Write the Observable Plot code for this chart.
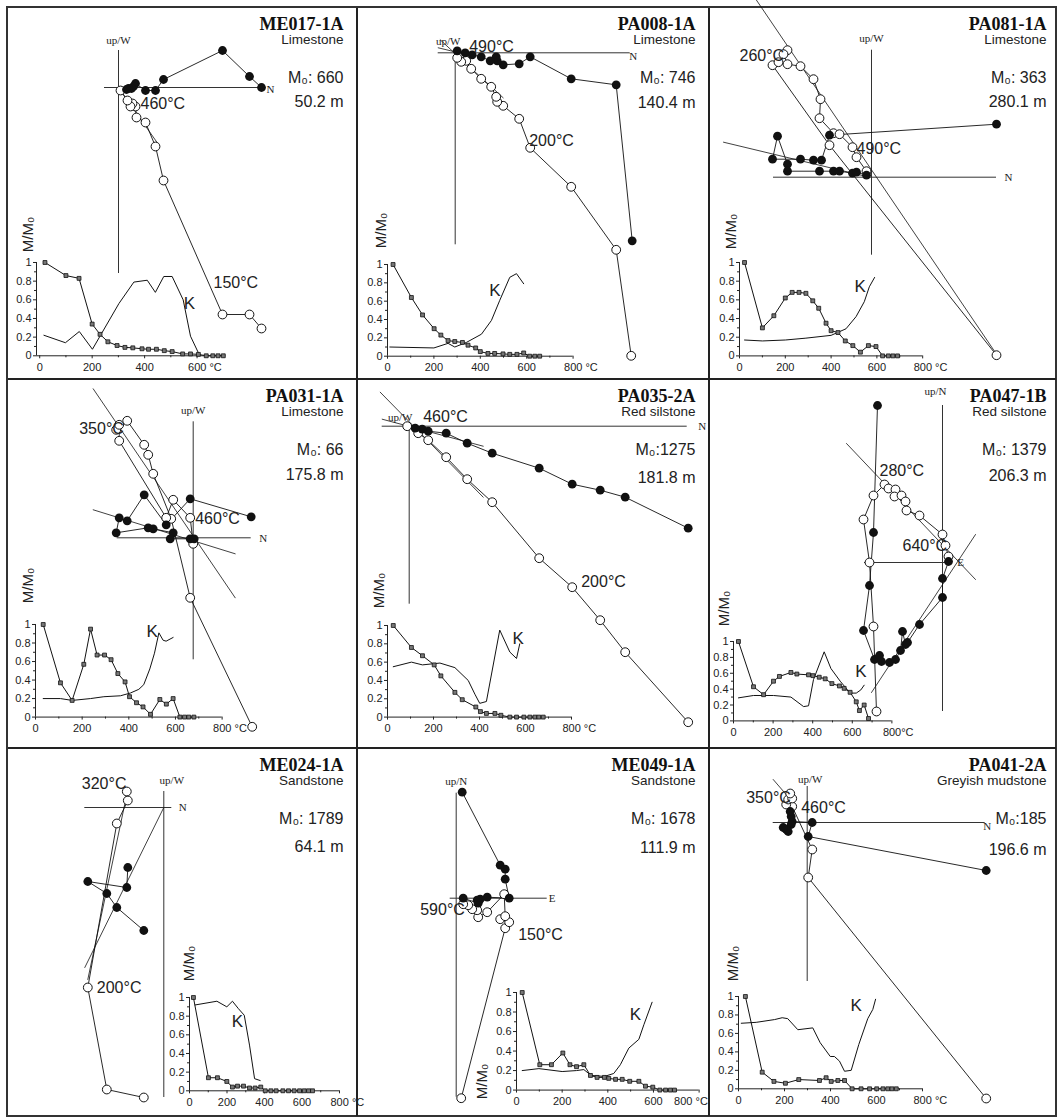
<!DOCTYPE html>
<html><head><meta charset="utf-8">
<script src="https://cdn.jsdelivr.net/npm/d3@7"></script>
<script src="https://cdn.jsdelivr.net/npm/@observablehq/plot@0.6"></script>
<style>
body{margin:0;background:#fff;}
#fig{position:relative;width:1059px;height:1119px;overflow:hidden;background:#fff;}
#fig svg{position:absolute;}
.gl{position:absolute;background:#222;}
#frame{position:absolute;left:6px;top:6px;width:1051px;height:1111px;border:2px solid #333;box-sizing:border-box;}
</style></head><body><div id="fig"><div id="frame"></div></div>
<script>
// ===== DATA =====
const samples = ["ME017-1A","PA008-1A","PA081-1A","PA031-1A","PA035-2A","PA047-1B","ME024-1A","ME049-1A","PA041-2A"];
const rocks = ["Limestone","Limestone","Limestone","Limestone","Red silstone","Red silstone","Sandstone","Sandstone","Greyish mudstone"];
const m0Labels = ["M₀: 660","M₀: 746","M₀: 363","M₀: 66","M₀:1275","M₀: 1379","M₀: 1789","M₀: 1678","M₀:185"];
const levels = ["50.2 m","140.4 m","280.1 m","175.8 m","181.8 m","206.3 m","64.1 m","111.9 m","196.6 m"];

// Zijderveld: horizontal projection (filled) and vertical projection (open), arbitrary units
const me017_h = [[143,0],[131,11],[104,37],[45,8],[37,-3],[27,-3],[17,4],[15,1],[13,-1],[10,-1],[8,-2]];
const me017_v = [[143,-241],[131,-227],[104,-227],[45,-93],[37,-59],[27,-35],[18,-30],[17,-19],[14,-16],[12,-19],[9,-13],[2,-3]];
const me017_fit = [[[2,-3],[40,-57]]];
const me017_tl = [{x:22,y:-16,t:"460°C"},{x:95,y:-195,t:"150°C"}];
const me017_ax = [{x:0,y:47,t:"up/W"},{x:152,y:-2,t:"N"}];

const pa008_h = [[177,-188],[161,-32],[116,-26],[75,-4],[64,-11],[48,-12],[42,-8],[41,-4],[35,-8],[26,-4],[17,-2],[10,0],[2,2]];
const pa008_v = [[176,-303],[161,-197],[116,-134],[75,-95],[64,-66],[48,-53],[42,-49],[41,-44],[36,-34],[26,-26],[16,-16],[11,-8],[6,-9],[2,-5]];
const pa008_fit = [[[-15,13],[48,-45]],[[-17,5],[8,-1]]];
const pa008_tl = [{x:14,y:6,t:"490°C"},{x:74,y:-88,t:"200°C"}];
const pa008_ax = [{x:-7,y:11,t:"up/W"},{x:178,y:-4,t:"N"}];

const pa081_h = [[125,53],[-42,42],[-50,17],[-58,17],[-71,18],[-99,18],[-94,41],[-84,13],[-84,6],[-52,6],[-38,6],[-32,6],[-19,4],[-15,5],[-5,2]];
const pa081_v = [[125,-178],[-42,32],[-99,112],[-93,115],[-84,127],[-88,123],[-84,113],[-71,111],[-58,98],[-51,78],[-52,59],[-38,44],[-32,43],[-19,30],[-15,20],[-5,6]];
const pa081_fit = [[[-115,177],[125,-177]],[[-148,35],[-2,0]]];
const pa081_tl = [{x:-132,y:121,t:"260°C"},{x:-15,y:28,t:"490°C"}];
const pa081_ax = [{x:0,y:139,t:"up/W"},{x:137,y:0,t:"N"}];

const pa031_h = [[58,21],[-3,39],[-27,13],[-49,43],[-66,17],[-74,20],[-77,5],[-45,10],[-40,9],[-20,5],[-23,-1],[-3,-1],[1,-1]];
const pa031_v = [[59,-189],[-3,-60],[-22,19],[-40,64],[-45,83],[-49,93],[-66,117],[-77,108],[-74,113],[-74,97],[-27,20],[-20,38],[-3,20],[0,-6]];
const pa031_fit = [[[-100,149],[42,-60]],[[-100,28],[42,-16]]];
const pa031_tl = [{x:-114,y:109,t:"350°C"},{x:2,y:19,t:"460°C"}];
const pa031_ax = [{x:0,y:127,t:"up/W"},{x:70,y:-1,t:"N"}];

const pa035_h = [[279,-102],[216,-71],[191,-64],[163,-58],[130,-42],[83,-27],[58,-17],[37,-7],[19,-5],[13,-3],[6,-2]];
const pa035_v = [[279,-296],[216,-226],[191,-194],[163,-161],[130,-132],[83,-76],[58,-53],[37,-31],[19,-14],[9,-7],[-2,0]];
const pa035_fit = [[[-29,34],[74,-71]],[[-27,7],[74,-20]]];
const pa035_tl = [{x:14,y:9,t:"460°C"},{x:172,y:-156,t:"200°C"}];
const pa035_ax = [{x:-9,y:9,t:"up/W"},{x:293,y:0,t:"N"}];

const pa047_h = [[-65,157],[-69,30],[-73,-23],[-79,-68],[-68,-97],[-63,-93],[-61,-99],[-53,-100],[-47,-97],[-42,-88],[-40,-69],[-37,-82],[-35,-80],[-23,-62],[0,-35],[0,-16],[6,1]];
const pa047_v = [[-66,-149],[-69,-64],[-73,0],[-79,43],[-69,67],[-58,78],[-54,74],[-47,73],[-48,66],[-41,67],[-37,61],[-36,52],[-23,47],[0,28],[3,17],[6,6]];
const pa047_fit = [[[-96,119],[33,-17]],[[-71,-130],[33,28]]];
const pa047_tl = [{x:-63,y:92,t:"280°C"},{x:-40,y:17,t:"640°C"}];
const pa047_ax = [{x:-7,y:171,t:"up/N"},{x:18,y:0,t:"E"}];

const me024_h = [[-20,-123],[-47,-100],[-57,-86],[-76,-74],[-37,-80],[-36,-60]];
const me024_v = [[-20,-290],[-57,-282],[-76,-180],[-47,-16],[-36,7],[-37,16]];
const me024_fit = [[[0,0],[-79,-160]],[[-37,13],[-76,-172]]];
const me024_tl = [{x:-82,y:24,t:"320°C"},{x:-67,y:-180,t:"200°C"}];
const me024_ax = [{x:8,y:27,t:"up/W"},{x:19,y:0,t:"N"}];

const me049_h = [[6,106],[44,33],[49,29],[49,19],[53,0],[31,1],[24,-1],[21,-2],[22,-5],[7,0]];
const me049_v = [[5,-200],[49,-30],[53,-24],[44,-21],[49,-18],[48,4],[31,-14],[22,-19],[21,-12],[16,-11],[12,-7],[7,-6]];
const me049_fit = [];
const me049_tl = [{x:-36,y:-12,t:"590°C"},{x:62,y:-37,t:"150°C"}];
const me049_ax = [{x:0,y:117,t:"up/N"},{x:96,y:0,t:"E"}];

const pa041_h = [[179,-48],[1,-14],[5,0],[-15,1],[-16,6],[-17,11],[-16,-2],[-19,-9],[-21,-7],[-24,-5]];
const pa041_v = [[179,-276],[1,-55],[5,-27],[-15,16],[-21,18],[-19,23],[-15,24],[-17,29]];
const pa041_fit = [[[-34,43],[-15,21]]];
const pa041_tl = [{x:-61,y:25,t:"350°C"},{x:-6,y:15,t:"460°C"}];
const pa041_ax = [{x:3,y:43,t:"up/W"},{x:180,y:-4,t:"N"}];

// Demagnetization (M/M0) and susceptibility (K) curves
const me017_T = [20,100,150,200,230,260,295,325,355,390,415,445,475,505,545,575,605,635,660,680,700];
const me017_M = [1,0.86,0.83,0.34,0.23,0.15,0.11,0.09,0.085,0.075,0.07,0.07,0.055,0.045,0.02,0.02,0.015,0,0,0,0];
const me017_KT = [16,98,151,201,302,359,410,441,473,505,547,575,607];
const me017_K = [0.22,0.14,0.26,0.07,0.56,0.79,0.81,0.68,0.85,0.85,0.6,0.21,0.02];

const pa008_T = [24,103,151,201,230,261,290,323,347,380,400,433,462,498,527,558,587,613,635,656];
const pa008_M = [1,0.64,0.45,0.3,0.23,0.17,0.16,0.15,0.12,0.09,0.05,0.03,0.03,0.025,0.02,0.02,0.035,0,0,0];
const pa008_KT = [10,200,261,290,340,405,448,484,527,556,587];
const pa008_K = [0.1,0.09,0.14,0.1,0.15,0.24,0.39,0.61,0.86,0.9,0.79];

const pa081_T = [22,100,150,200,230,260,290,320,346,378,400,430,462,495,528,563,596,625,650,670,690];
const pa081_M = [1,0.3,0.43,0.62,0.68,0.68,0.67,0.59,0.51,0.35,0.27,0.25,0.16,0.11,0.04,0.11,0.1,0,0,0,0];
const pa081_KT = [22,100,200,290,400,465,509,545,567,590];
const pa081_K = [0.17,0.16,0.17,0.19,0.22,0.29,0.42,0.58,0.74,0.84];

const pa031_T = [33,107,157,207,236,264,296,324,353,384,403,433,461,493,533,561,590,619,639,657,679];
const pa031_M = [1,0.37,0.18,0.57,0.95,0.67,0.67,0.62,0.47,0.38,0.22,0.155,0.11,0.03,0.19,0.14,0.2,0,0,0,0];
const pa031_KT = [33,107,157,236,293,364,407,443,464,490,510,529,547,560,590];
const pa031_K = [0.2,0.2,0.18,0.2,0.22,0.23,0.26,0.3,0.35,0.52,0.69,0.91,0.83,0.82,0.86];

const pa035_T = [25,104,152,203,232,293,325,384,404,430,467,493,532,561,593,619,641,658,677];
const pa035_M = [1,0.76,0.67,0.57,0.45,0.27,0.19,0.11,0.06,0.04,0.04,0.02,0,0,0,0,0,0,0];
const pa035_KT = [25,104,152,228,293,351,380,401,430,488,532,561,575];
const pa035_K = [0.55,0.6,0.57,0.59,0.54,0.4,0.25,0.15,0.17,0.95,0.71,0.64,0.8];

const pa047_T = [25,101,152,202,232,290,320,379,401,433,463,497,535,559,589,620,636,660,682];
const pa047_M = [1,0.43,0.33,0.5,0.56,0.61,0.59,0.58,0.57,0.55,0.53,0.47,0.44,0.41,0.36,0.24,0.13,0.2,0.03];
const pa047_KT = [25,101,202,290,354,379,404,458,492,539,589,620,643,660];
const pa047_K = [0.29,0.32,0.32,0.3,0.18,0.19,0.52,0.87,0.66,0.5,0.35,0.35,0.39,0.45];

const me024_T = [21,101,149,199,229,256,288,320,350,380,404,434,462,498,528,558,587,612,635,656];
const me024_M = [1,0.14,0.14,0.1,0.04,0.05,0.05,0.03,0.03,0.04,0,0,0,0,0,0,0,0,0,0];
const me024_KT = [30,146,199,229,261,292,320,347,377];
const me024_K = [0.92,0.96,0.9,0.96,0.88,0.81,0.49,0.13,0.11];

const me049_T = [25,102,153,203,234,263,295,324,353,385,404,434,463,496,536,565,597,628,653,674,692];
const me049_M = [1,0.26,0.26,0.38,0.26,0.24,0.26,0.15,0.13,0.13,0.12,0.11,0.11,0.09,0.09,0.04,0.03,0,0,0,0];
const me049_KT = [25,98,200,263,295,327,385,426,455,492,536,558,594];
const me049_K = [0.2,0.22,0.19,0.2,0.21,0.15,0.14,0.17,0.26,0.43,0.52,0.67,0.9];

const pa041_T = [30,103,154,204,262,352,381,403,432,461,494,533,570,601,628,649,667,686];
const pa041_M = [1,0.18,0.08,0.06,0.1,0.09,0.12,0.08,0.09,0.09,0,0,0,0,0,0,0,0];
const pa041_KT = [12,77,157,190,214,258,323,355,399,417,439,461,490,523,562,584,596];
const pa041_K = [0.71,0.72,0.75,0.77,0.76,0.64,0.66,0.5,0.35,0.35,0.3,0.19,0.2,0.48,0.76,0.86,0.97];

// label position of "K" (temperature, M/M0 units)
const kLabels = [[571,0.56],[463,0.72],[527,0.74],[500,0.92],[568,0.86],[643,0.62],[256,0.74],[521,0.77],[512,0.9]];

// ===== LAYOUT (page geometry) =====
const colL = [8,358,710], colR = [356,708,1055];
const rowT = [8,380,749], rowB = [378,747,1115];
const textRight = [343,695,1046];
const origins = [[118,87],[454.7,52.3],[871,176.7],[192.7,537.3],[408.7,425.7],[942,562],[163.3,807],[455.7,897.7],[806.7,822]];
const axH = [[-14,145],[-17,175],[-98,125],[-76,58],[-27,278],[-78,10],[-79,8],[-6,91],[-34,178]];
const axV = [[37,-186],[2,-192],[127,-78],[116,-122],[3,-178],[157,-149],[16,-290],[105,-199],[36,-159]];
// inset: y-axis x, x=0 px, px per °C, y(1), y(0), x end, sep, last label shift, M/M0 label offset
const insets = [
  {xL:36, x0:39.2, k:0.2623, y1:261.7, y0:355, xEnd:710, last:600, sep:" ", ldx:0, mm:[-8,-28]},
  {xL:387.3, x0:387.3, k:0.232, y1:264, y0:355.7, xEnd:800, last:800, sep:" ", ldx:0, mm:[-6,-34]},
  {xL:739.3, x0:739.3, k:0.229, y1:262.3, y0:355.7, xEnd:800, last:800, sep:" ", ldx:0, mm:[-8,-31]},
  {xL:35, x0:35, k:0.2333, y1:623.7, y0:716.3, xEnd:800, last:800, sep:" ", ldx:0, mm:[-7,-39]},
  {xL:387.3, x0:387.3, k:0.23, y1:624.7, y0:716.3, xEnd:800, last:800, sep:" ", ldx:0, mm:[-8,-35]},
  {xL:732.7, x0:732.7, k:0.198, y1:641.3, y0:720.7, xEnd:800, last:800, sep:"", ldx:0, mm:[-9,-33]},
  {xL:189.3, x0:189.3, k:0.1875, y1:996.7, y0:1090, xEnd:800, last:800, sep:" ", ldx:0, mm:[0,-34]},
  {xL:515.7, x0:515.7, k:0.2283, y1:991.7, y0:1089.3, xEnd:800, last:800, sep:" ", ldx:-16, mm:[-34,89]},
  {xL:738.3, x0:738.3, k:0.23, y1:996, y0:1088.3, xEnd:800, last:800, sep:" ", ldx:0, mm:[-5,-33]}
];
const depthDy = [99,100,99,100,103,101,103,104,106];

const zij = [
  [me017_h,me017_v,me017_fit,me017_tl,me017_ax],
  [pa008_h,pa008_v,pa008_fit,pa008_tl,pa008_ax],
  [pa081_h,pa081_v,pa081_fit,pa081_tl,pa081_ax],
  [pa031_h,pa031_v,pa031_fit,pa031_tl,pa031_ax],
  [pa035_h,pa035_v,pa035_fit,pa035_tl,pa035_ax],
  [pa047_h,pa047_v,pa047_fit,pa047_tl,pa047_ax],
  [me024_h,me024_v,me024_fit,me024_tl,me024_ax],
  [me049_h,me049_v,me049_fit,me049_tl,me049_ax],
  [pa041_h,pa041_v,pa041_fit,pa041_tl,pa041_ax]
];
const demag = [
  [me017_T,me017_M,me017_KT,me017_K],[pa008_T,pa008_M,pa008_KT,pa008_K],[pa081_T,pa081_M,pa081_KT,pa081_K],
  [pa031_T,pa031_M,pa031_KT,pa031_K],[pa035_T,pa035_M,pa035_KT,pa035_K],[pa047_T,pa047_M,pa047_KT,pa047_K],
  [me024_T,me024_M,me024_KT,me024_K],[me049_T,me049_M,me049_KT,me049_K],[pa041_T,pa041_M,pa041_KT,pa041_K]
];

const SANS = "'Liberation Sans', Arial, sans-serif";
const SERIF = "'Liberation Serif', 'Times New Roman', serif";
const fig = document.getElementById("fig");

// grid lines
[[356,8,1.5,1108],[708,8,1.5,1108],[8,378,1048,1.5],[8,747,1048,1.5]].forEach(([l,t,w,h])=>{
  const d=document.createElement("div");d.className="gl";
  Object.assign(d.style,{left:l+"px",top:t+"px",width:w+"px",height:h+"px"});fig.appendChild(d);
});

function place(svg, left, top){ svg.style.left = left+"px"; svg.style.top = top+"px"; fig.appendChild(svg); }

for (let i = 0; i < 9; i++) {
  const c = i % 3, r = Math.floor(i / 3);
  const L = colL[c], R = colR[c], T = rowT[r], B = rowB[r];
  const [ox, oy] = origins[i];
  const [hor, ver, fits, tl, ax] = zij[i];
  const fitPts = fits.flatMap((s, j) => s.map(p => ({x: p[0], y: p[1], z: j})));
  const hdr = {frameAnchor: "top-right", dx: textRight[c] - R, textAnchor: "end", lineAnchor: "middle", fill: "#222", fontFamily: SANS};
  const z = Plot.plot({
    width: R - L, height: B - T, margin: 0,
    x: {domain: [L - ox, R - ox], axis: null},
    y: {domain: [oy - B, oy - T], axis: null},
    style: {background: "transparent", overflow: "visible", maxWidth: "none", fontFamily: SANS},
    marks: [
      Plot.ruleY([0], {x1: axH[i][0], x2: axH[i][1], stroke: "#333", strokeWidth: 1}),
      Plot.ruleX([0], {y1: axV[i][0], y2: axV[i][1], stroke: "#333", strokeWidth: 1}),
      Plot.line(fitPts, {x: "x", y: "y", z: "z", stroke: "#111", strokeWidth: 0.8}),
      Plot.line(ver, {x: d => d[0], y: d => d[1], stroke: "#111", strokeWidth: 0.9}),
      Plot.line(hor, {x: d => d[0], y: d => d[1], stroke: "#111", strokeWidth: 0.9}),
      Plot.dot(ver, {x: d => d[0], y: d => d[1], r: 4.4, fill: "white", stroke: "#111", strokeWidth: 1}),
      Plot.dot(hor, {x: d => d[0], y: d => d[1], r: 4.4, fill: "#111"}),
      Plot.text(tl, {x: "x", y: "y", text: "t", textAnchor: "start", lineAnchor: "middle", fontSize: 16, fontFamily: SANS, fill: "#222"}),
      Plot.text(ax, {x: "x", y: "y", text: "t", lineAnchor: "middle", fontSize: 11, fontFamily: SERIF, fill: "#222"}),
      Plot.text([samples[i]], {...hdr, dy: 16, fontSize: 18, fontWeight: "bold", fontFamily: SERIF, fill: "#111"}),
      Plot.text([rocks[i]], {...hdr, dy: 31.5, fontSize: 13.5}),
      Plot.text([m0Labels[i]], {...hdr, dy: 69, fontSize: 16}),
      Plot.text([levels[i]], {...hdr, dy: depthDy[i] - 6, fontSize: 16})
    ]
  });
  place(z, L, T);

  // inset demagnetization curve
  const I = insets[i];
  const [tM, vM, tK, vK] = demag[i];
  const xStart = (I.xL - I.x0) / I.k;
  const mL = 40, mR = 45, mT = 10, mB = 24;
  const w = (I.xEnd - xStart) * I.k, h = I.y0 - I.y1;
  const majors = d3.range(0, I.xEnd + 1, 200).filter(v => v <= I.last);
  const minors = d3.range(100, I.xEnd + 1, 200);
  const mData = d3.zip(tM, vM), kData = d3.zip(tK, vK);
  const p = Plot.plot({
    width: mL + w + mR, height: mT + h + mB,
    marginLeft: mL, marginRight: mR, marginTop: mT, marginBottom: mB,
    x: {domain: [xStart, I.xEnd], axis: null},
    y: {domain: [0, 1], axis: null},
    style: {background: "transparent", overflow: "visible", maxWidth: "none", fontFamily: SANS, fontSize: "11px", color: "#222"},
    marks: [
      Plot.ruleX([xStart], {stroke: "#222", strokeWidth: 1}),
      Plot.ruleY([0], {stroke: "#222", strokeWidth: 1}),
      Plot.axisY({ticks: [0, 0.2, 0.4, 0.6, 0.8, 1], tickSize: 3, tickPadding: 2, tickFormat: d => String(+d.toFixed(1)), fontSize: 11}),
      Plot.axisY({ticks: [0.1, 0.3, 0.5, 0.7, 0.9], tickSize: 2, tickFormat: () => ""}),
      Plot.axisX({ticks: majors, tickSize: 3, tickPadding: 4, tickFormat: d => d === I.last ? "" : String(d), fontSize: 11}),
      Plot.axisX({ticks: minors, tickSize: 2, tickFormat: () => ""}),
      Plot.text([I.last], {x: d => d, frameAnchor: "bottom", text: d => `${d}${I.sep}°C`, textAnchor: "start", lineAnchor: "top", dy: 7, dx: -9 + I.ldx, fontSize: 11}),
      Plot.line(kData, {x: d => d[0], y: d => d[1], stroke: "#111", strokeWidth: 1}),
      Plot.line(mData, {x: d => d[0], y: d => d[1], stroke: "#111", strokeWidth: 1}),
      Plot.dot(mData, {x: d => d[0], y: d => d[1], symbol: "square", r: 2.2, fill: "#777", stroke: "#111", strokeWidth: 0.8}),
      Plot.text([kLabels[i]], {x: d => d[0], y: d => d[1], text: () => "K", fontSize: 17, fill: "#222"}),
      Plot.text(["M/M₀"], {frameAnchor: "top-left", rotate: -90, textAnchor: "middle", lineAnchor: "middle", dx: I.mm[0], dy: I.mm[1], fontSize: 15, fill: "#222"})
    ]
  });
  place(p, I.xL - mL, I.y1 - mT);
}
</script></body></html>
